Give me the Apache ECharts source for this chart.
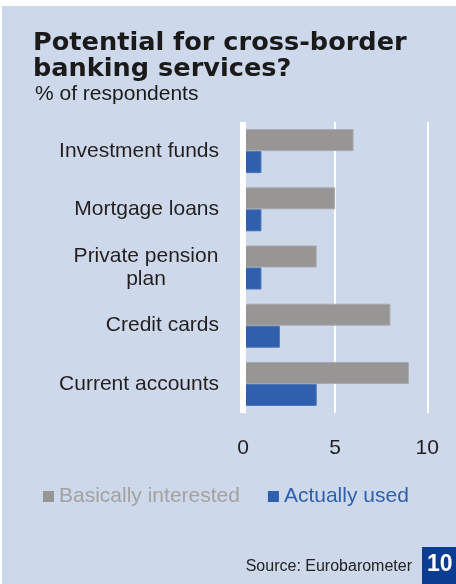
<!DOCTYPE html>
<html>
<head>
<meta charset="utf-8">
<script src="https://cdn.jsdelivr.net/npm/echarts@6/dist/echarts.min.js"></script>
<style>
  html, body { margin: 0; padding: 0; background: #ffffff; }
  #panel { position: absolute; left: 2px; top: 6px; width: 454px; height: 578px; background: #cdd8ea; }
  #chart { position: absolute; left: 0; top: 0; width: 456px; height: 584px; }
</style>
</head>
<body>
<div id="panel"></div>
<div id="chart"></div>
<script>
// Services, listed top to bottom
const categories = ['Investment funds', 'Mortgage loans', 'Private pension plan', 'Credit cards', 'Current accounts'];
// % of respondents
const interested = [6, 5, 4, 8, 9];
const used = [1, 1, 1, 2, 4];
const seriesNames = ['Basically interested', 'Actually used'];
const xTicks = [0, 5, 10];

const GREY = '#979694';
const BLUE = '#2f5fad';
const LABEL_FONT = '"Liberation Sans", Arial, Helvetica, sans-serif';

const chart = echarts.init(document.getElementById('chart'), null, { renderer: 'canvas' });

chart.setOption({
  backgroundColor: 'transparent',
  animation: false,
  title: [
    {
      text: 'Potential for cross-border\nbanking services?',
      left: 33, top: 30, padding: 0,
      textStyle: { fontFamily: '"DejaVu Sans", sans-serif', fontWeight: 'bold', fontSize: 25.6, lineHeight: 26, color: '#1a1a1a' }
    },
    {
      text: '% of respondents',
      left: 35, top: 84, padding: 0,
      textStyle: { fontFamily: LABEL_FONT, fontWeight: 'normal', fontSize: 21, lineHeight: 21, color: '#1a1a1a' }
    },
    {
      text: 'Source: Eurobarometer',
      right: 44, top: 559, padding: 0,
      textStyle: { fontFamily: LABEL_FONT, fontWeight: 'normal', fontSize: 16, lineHeight: 16, color: '#222222' }
    }
  ],
  legend: {
    left: 43, top: 486, padding: 0,
    itemWidth: 11, itemHeight: 11, itemGap: 28,
    icon: 'rect',
    itemStyle: { borderWidth: 0 },
    textStyle: { fontFamily: LABEL_FONT, fontSize: 21 },
    data: [
      { name: seriesNames[0], textStyle: { color: '#a3a2a0' } },
      { name: seriesNames[1], textStyle: { color: BLUE } }
    ]
  },
  grid: { left: 243, right: 28.7, top: 122, bottom: 171, containLabel: false },
  xAxis: {
    type: 'value',
    min: xTicks[0], max: xTicks[xTicks.length - 1], interval: xTicks[1] - xTicks[0],
    axisLine: { show: false },
    axisTick: { show: false },
    splitLine: { show: true, lineStyle: { color: '#ffffff', width: 2 } },
    axisLabel: { margin: 25, fontFamily: LABEL_FONT, fontSize: 21, color: '#231f20' }
  },
  yAxis: {
    type: 'category',
    inverse: true,
    z: 5,
    data: categories,
    axisLine: { show: true, lineStyle: { color: '#ffffff', width: 6, cap: 'butt' } },
    axisTick: { show: false },
    axisLabel: {
      margin: 24,
      fontFamily: LABEL_FONT, fontSize: 21, lineHeight: 23, color: '#231f20',
      formatter: function (v) {
        if (v === 'Private pension plan') return '{c|Private pension}\n{c|plan}';
        return v;
      },
      rich: {
        c: { width: 146, align: 'center', fontFamily: LABEL_FONT, fontSize: 21, lineHeight: 23, color: '#231f20' }
      }
    }
  },
  series: [
    {
      name: seriesNames[0], type: 'bar', data: interested,
      barWidth: 22, barGap: '0%',
      itemStyle: { color: GREY, borderColor: '#a9aab0', borderWidth: 1 }
    },
    {
      name: seriesNames[1], type: 'bar', data: used,
      barWidth: 22, barGap: '0%',
      itemStyle: { color: BLUE, borderColor: '#4a74b8', borderWidth: 1 }
    }
  ],
  graphic: [
    { type: 'rect', shape: { x: 422, y: 547, width: 34, height: 37 }, style: { fill: '#0a3d91' } },
    {
      type: 'text', x: 427, y: 565,
      style: { text: '10', fill: '#ffffff', font: 'bold 23px "Liberation Sans", Arial, sans-serif', verticalAlign: 'middle' }
    }
  ]
});
</script>
</body>
</html>
